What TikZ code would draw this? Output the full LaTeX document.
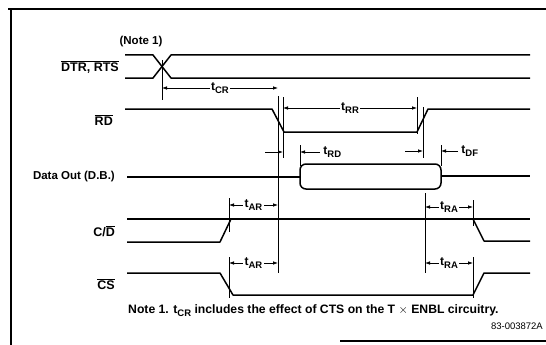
\documentclass[tikz,border=0pt]{standalone}
\usepackage{fontspec}
\setmainfont{Liberation Sans}
\usetikzlibrary{arrows.meta}
\newcommand\ovl[1]{$\overline{\hbox{#1}}$}
\newcommand\tm[1]{t\raisebox{-0.45ex}{\fontsize{9.5}{9.5}\selectfont #1}}
\begin{document}
\begin{tikzpicture}[x=1pt,y=-1pt,
 sig/.style={line width=1.5pt, line join=round},
 guide/.style={line width=0.8pt},
 tip/.style={line width=0.8pt, -{Latex[length=5pt,width=3.6pt]}},
 dimarr/.style={line width=0.8pt, {Latex[length=5pt,width=3.6pt]}-{Latex[length=5pt,width=3.6pt]}},
 lab/.style={font=\fontsize{11.5}{12}\selectfont\bfseries, anchor=east, inner sep=0pt},
 biglab/.style={lab, font=\fontsize{12.5}{13}\selectfont\bfseries},
 tlab/.style={font=\fontsize{12}{12}\selectfont\bfseries, fill=white, inner sep=1.2pt},
 frame/.style={line width=1.2pt}]
\useasboundingbox (0,0) rectangle (546,345);
% frame
\draw[frame] (8,9) -- (546,9);
\draw[frame] (11,9) -- (11,345);
\draw[frame] (340,341) -- (546,341);

% labels
\node[lab, anchor=center] (note1) at (141,42) {(Note 1)};
\node[biglab] (ldtr) at (119,67) {\ovl{DTR, RTS}};
\node[biglab] (lrd) at (113,120) {\ovl{RD}};
\node[lab] (ldata) at (115,177) {Data Out (D.B.)};
\node[biglab] (lcd) at (115,231) {C/\ovl{D}};
\node[biglab] (lcs) at (115,284) {\ovl{CS}};

% DTR, RTS
\draw[sig] (125,55) -- (153,55) -- (171,78) -- (530,78);
\draw[sig] (125,78) -- (153,78) -- (171,55) -- (530,55);
\draw[guide] (162,60) -- (162,100);
\draw[dimarr] (162,88) -- node[tlab] (tcr) {\tm{CR}} (278,88);

% RD
\draw[sig] (125,109) -- (272,109) -- (284,132) -- (417,132) -- (428,109) -- (530,109);
\draw[guide] (278,96) -- (278,273);
\draw[guide] (283,97) -- (283,158);
\draw[guide] (417,97) -- (417,134);
\draw[guide] (423,107) -- (423,158);
\draw[dimarr] (283,108) -- node[tlab] (trr) {\tm{RR}} (417,108);

% tRD / tDF
\draw[tip] (265,152) -- (283,152);
\draw[guide] (300,145) -- (300,166);
\draw[tip] (320,152) -- (300,152);
\node[tlab, anchor=west] (trd) at (322,152) {\tm{RD}};
\draw[tip] (405,151) -- (423,151);
\draw[guide] (441,145) -- (441,166);
\draw[tip] (458,151) -- (441,151);
\node[tlab, anchor=west] (tdf) at (460,151) {\tm{DF}};

% Data out
\draw[sig] (127,177) -- (300,177);
\draw[sig, rounded corners=6pt] (300,164) rectangle (441,189);
\draw[sig] (441,176) -- (530,176);

% C/D
\draw[sig] (127,219) -- (530,219);
\draw[sig] (127,242) -- (220,242) -- (231,219);
\draw[sig] (473,219) -- (484,241) -- (530,241);
\draw[guide] (229,198) -- (229,232);
\draw[dimarr] (229,205) -- node[tlab] (tar1) {\tm{AR}} (278,205);
\draw[guide] (425,193) -- (425,273);
\draw[guide] (473,200) -- (473,226);
\draw[dimarr] (425,207) -- node[tlab] (tra1) {\tm{RA}} (473,207);

% CS
\draw[sig] (127,273) -- (220,273) -- (233,295) -- (473,295) -- (484,273) -- (530,273);
\draw[guide] (229,257) -- (229,298);
\draw[dimarr] (229,263) -- node[tlab] (tar2) {\tm{AR}} (278,263);
\draw[guide] (473,257) -- (473,298);
\draw[dimarr] (425,263) -- node[tlab] (tra2) {\tm{RA}} (473,263);

% notes
\node[font=\fontsize{12.2}{13}\selectfont\bfseries, anchor=west, inner sep=0pt] (note) at (128,311)
  {Note 1. \tm{CR} includes the effect of CTS on the T $\times$ ENBL circuitry.};
\node[font=\fontsize{9.5}{10}\selectfont, anchor=east, inner sep=0pt] (fig) at (543,326) {83-003872A};
\end{tikzpicture}
\end{document}
